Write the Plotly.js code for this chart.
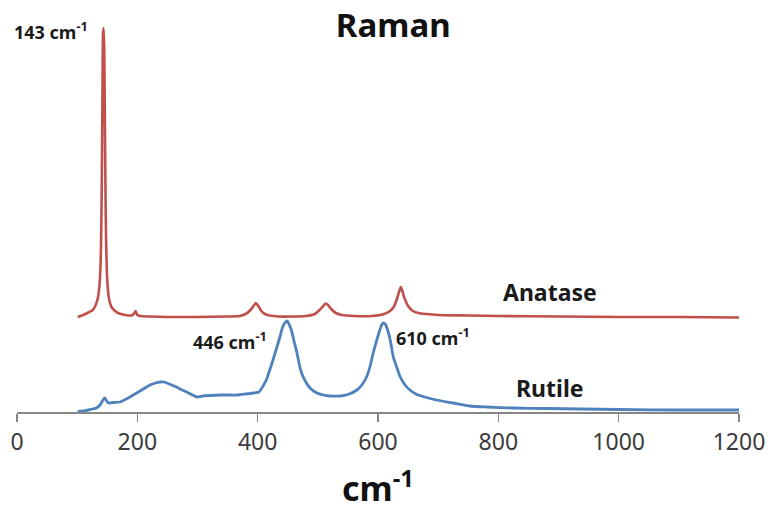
<!DOCTYPE html>
<html>
<head>
<meta charset="utf-8">
<script src="https://cdn.plot.ly/plotly-3.0.1.min.js"></script>
<style>html,body{margin:0;padding:0;background:#fff;}#chart{width:768px;height:513px;}</style>
</head>
<body>
<div id="chart"></div>
<script>
// Raman shift (cm-1) and intensity (a.u.)
const anataseShift = [101,110,120,126,130,134,137,139,140,141,142,143,144,145,146,147,148,150,153,157,163,170,180,190,194,197,200,205,220,250,300,350,370,380,388,393,397,401,406,412,420,435,460,480,495,503,509,513,517,522,530,540,560,590,610,620,627,632,636,638,640,644,650,658,667,680,700,750,800,900,1000,1100,1200];
const anataseIntensity = [95,97,100,102,106,113,126,150,180,235,315,378,384,362,295,225,175,132,113,105,101,98.5,97,96.5,98,101,97,96,95.5,95,95,95.5,96,98,102,106,109,106,101,98,96.5,95.5,95.5,96,98,102,106,108.5,107,103,99,97,96,96,98,101,106,114,122,125,122,114,106,101,99,98,97,96.5,96,95.5,95,95,94.5];

const rutileShift = [101,115,125,132,138,143,146,149,152,160,171,185,199,210,221,230,238,245,249,257,265,273,282,290,299,309,320,337,350,365,380,393,402,409,415,420,426,432,437,441,445,449,452,456,460,465,469,473,480,487,497,509,520,537,550,565,573,581,587,592,598,603,606,609,612,617,621,625,631,637,645,653,663,675,697,725,753,781,825,880,936,1000,1100,1200];
const rutileIntensity = [0.5,1.5,3,4,7,12,14,11,9,9.5,10,14,19,23,27,29,30,30,29,27,25,22.5,20,17.5,15,16,16.5,17,17,17,18,19,20,26,33,42,53,65,75,84,89,91,88,82,72,60,48,39,30,24,19.5,17,16,16,17.5,22,27,35,46,59,72,82,87,89,88,80,70,56,45,35,27,22,18,15.5,12,9,6,5,4,3.5,3,2.5,2,2];

const xTickVals = [0,200,400,600,800,1000,1200];
const xTickText = ['0','200','400','600','800','1000','1200'];

const traces = [
  {x: anataseShift, y: anataseIntensity, name: 'Anatase', type: 'scatter', mode: 'lines',
   line: {color: '#c0504d', width: 2.6, shape: 'spline', smoothing: 0.6}},
  {x: rutileShift, y: rutileIntensity, name: 'Rutile', type: 'scatter', mode: 'lines',
   line: {color: '#4f81bd', width: 2.8, shape: 'spline', smoothing: 0.6}}
];

const annFont = {family: 'Noto Sans, sans-serif', size: 18, color: '#1a1a1a'};
const labelFont = {family: 'Noto Sans, sans-serif', size: 23, color: '#1a1a1a'};
const layout = {
  width: 768, height: 513,
  margin: {l: 17, r: 29, t: 20, b: 101},
  paper_bgcolor: '#ffffff', plot_bgcolor: '#ffffff',
  showlegend: false,
  title: {text: '<b>Raman</b>', x: 0.512, xref: 'container', xanchor: 'center',
          y: 0.951, yref: 'container', yanchor: 'middle',
          font: {family: 'Noto Sans, sans-serif', size: 33, color: '#111'}},
  xaxis: {range: [0, 1200], tickvals: xTickVals, ticktext: xTickText,
          showgrid: false, zeroline: false, showline: true, linecolor: '#868686', linewidth: 2,
          ticks: 'outside', ticklen: 8, tickwidth: 1.5, tickcolor: '#868686',
          tickfont: {family: 'Noto Sans, sans-serif', size: 23, color: '#3a3a3a'},
          title: {text: '<b>cm<sup>-1</sup></b>', standoff: 22,
                  font: {family: 'Noto Sans, sans-serif', size: 34, color: '#111'}}},
  yaxis: {range: [0, 392], visible: false, showgrid: false, zeroline: false},
  annotations: [
    {x: 121, y: 381, xref: 'x', yref: 'y', text: '<b>143 cm<sup>-1</sup></b>', showarrow: false, xanchor: 'right', yanchor: 'middle', font: annFont},
    {x: 418, y: 71, xref: 'x', yref: 'y', text: '<b>446 cm<sup>-1</sup></b>', showarrow: false, xanchor: 'right', yanchor: 'middle', font: annFont},
    {x: 627, y: 75, xref: 'x', yref: 'y', text: '<b>610 cm<sup>-1</sup></b>', showarrow: false, xanchor: 'left', yanchor: 'middle', font: annFont},
    {x: 804, y: 120, xref: 'x', yref: 'y', text: '<b>Anatase</b>', showarrow: false, xanchor: 'left', yanchor: 'middle', font: labelFont},
    {x: 826, y: 24, xref: 'x', yref: 'y', text: '<b>Rutile</b>', showarrow: false, xanchor: 'left', yanchor: 'middle', font: labelFont}
  ]
};

Plotly.newPlot('chart', traces, layout, {staticPlot: true, displayModeBar: false});
</script>
</body>
</html>
